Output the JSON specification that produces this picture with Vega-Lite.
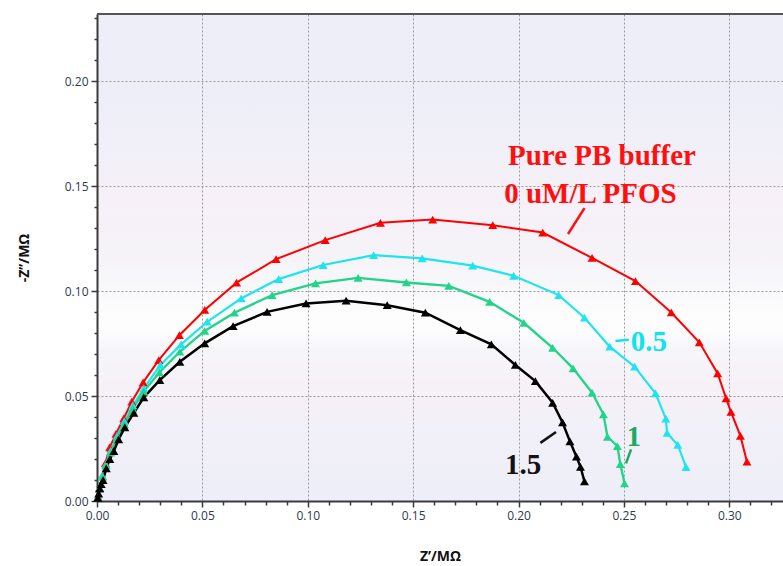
{
  "$schema": "https://vega.github.io/schema/vega-lite/v6.json",
  "width": 686,
  "height": 487,
  "autosize": {"type": "none"},
  "padding": {"left": 97, "top": 14, "right": 0, "bottom": 65},
  "background": "white",
  "config": {
    "view": {
      "stroke": null,
      "fill": {
        "gradient": "linear", "x1": 0, "y1": 0, "x2": 0, "y2": 1,
        "stops": [
          {"offset": 0, "color": "#eeeef8"},
          {"offset": 0.16, "color": "#eeeef8"},
          {"offset": 0.28, "color": "#f1f0f8"},
          {"offset": 0.38, "color": "#f7f0f8"},
          {"offset": 0.48, "color": "#f5f2f8"},
          {"offset": 0.55, "color": "#f7f7fa"},
          {"offset": 0.62, "color": "#fdfdfe"},
          {"offset": 0.65, "color": "#fdfdfe"},
          {"offset": 0.69, "color": "#f6f6fa"},
          {"offset": 0.78, "color": "#f6f0f7"},
          {"offset": 0.86, "color": "#f1f0f8"},
          {"offset": 1, "color": "#eeeef8"}
        ]
      }
    },
    "axis": {
      "domainColor": "#3a3a3a", "domainWidth": 2,
      "tickColor": "#3a3a3a", "tickWidth": 1.5,
      "labelFont": "Open Sans", "labelFontSize": 12, "labelColor": "#2e3a52",
      "titleFont": "Open Sans", "titleFontSize": 14, "titleFontWeight": "bold", "titleColor": "#111111",
      "gridColor": "#9a9a9a", "gridDash": [2, 2], "gridWidth": 1,
      "labelOverlap": false, "labelFlush": false
    }
  },
  "datasets": {
    "curves": [
      {"s": "0", "i": 1, "x": 0.0005, "y": 0.002},
      {"s": "0", "i": 2, "x": 0.0012, "y": 0.006},
      {"s": "0", "i": 3, "x": 0.0025, "y": 0.012},
      {"s": "0", "i": 4, "x": 0.0040, "y": 0.018},
      {"s": "0", "i": 5, "x": 0.0060, "y": 0.0255},
      {"s": "0", "i": 6, "x": 0.0090, "y": 0.032},
      {"s": "0", "i": 7, "x": 0.0127, "y": 0.0394},
      {"s": "0", "i": 8, "x": 0.0165, "y": 0.0473},
      {"s": "0", "i": 9, "x": 0.0219, "y": 0.0565},
      {"s": "0", "i": 10, "x": 0.0293, "y": 0.0671},
      {"s": "0", "i": 11, "x": 0.0391, "y": 0.0790},
      {"s": "0", "i": 12, "x": 0.0511, "y": 0.0910},
      {"s": "0", "i": 13, "x": 0.0662, "y": 0.1040},
      {"s": "0", "i": 14, "x": 0.0850, "y": 0.1152},
      {"s": "0", "i": 15, "x": 0.1083, "y": 0.1243},
      {"s": "0", "i": 16, "x": 0.1345, "y": 0.1325},
      {"s": "0", "i": 17, "x": 0.1593, "y": 0.1341},
      {"s": "0", "i": 18, "x": 0.1878, "y": 0.1314},
      {"s": "0", "i": 19, "x": 0.2115, "y": 0.1279},
      {"s": "0", "i": 20, "x": 0.2349, "y": 0.1158},
      {"s": "0", "i": 21, "x": 0.2555, "y": 0.1048},
      {"s": "0", "i": 22, "x": 0.2725, "y": 0.0898},
      {"s": "0", "i": 23, "x": 0.2858, "y": 0.0756},
      {"s": "0", "i": 24, "x": 0.2945, "y": 0.0608},
      {"s": "0", "i": 25, "x": 0.2985, "y": 0.0489},
      {"s": "0", "i": 26, "x": 0.3008, "y": 0.0425},
      {"s": "0", "i": 27, "x": 0.3053, "y": 0.0310},
      {"s": "0", "i": 28, "x": 0.3084, "y": 0.0187},

      {"s": "0.5", "i": 1, "x": 0.0005, "y": 0.002},
      {"s": "0.5", "i": 2, "x": 0.0012, "y": 0.0065},
      {"s": "0.5", "i": 3, "x": 0.0025, "y": 0.012},
      {"s": "0.5", "i": 4, "x": 0.0042, "y": 0.0175},
      {"s": "0.5", "i": 5, "x": 0.0065, "y": 0.024},
      {"s": "0.5", "i": 6, "x": 0.0095, "y": 0.031},
      {"s": "0.5", "i": 7, "x": 0.0130, "y": 0.038},
      {"s": "0.5", "i": 8, "x": 0.0170, "y": 0.0455},
      {"s": "0.5", "i": 9, "x": 0.0222, "y": 0.0537},
      {"s": "0.5", "i": 10, "x": 0.0301, "y": 0.0648},
      {"s": "0.5", "i": 11, "x": 0.0399, "y": 0.0746},
      {"s": "0.5", "i": 12, "x": 0.0523, "y": 0.0854},
      {"s": "0.5", "i": 13, "x": 0.0684, "y": 0.0965},
      {"s": "0.5", "i": 14, "x": 0.0862, "y": 0.1057},
      {"s": "0.5", "i": 15, "x": 0.1073, "y": 0.1124},
      {"s": "0.5", "i": 16, "x": 0.1313, "y": 0.1171},
      {"s": "0.5", "i": 17, "x": 0.1543, "y": 0.1156},
      {"s": "0.5", "i": 18, "x": 0.1783, "y": 0.1121},
      {"s": "0.5", "i": 19, "x": 0.1977, "y": 0.1073},
      {"s": "0.5", "i": 20, "x": 0.2191, "y": 0.0981},
      {"s": "0.5", "i": 21, "x": 0.2313, "y": 0.0873},
      {"s": "0.5", "i": 22, "x": 0.2433, "y": 0.0735},
      {"s": "0.5", "i": 23, "x": 0.2551, "y": 0.0640},
      {"s": "0.5", "i": 24, "x": 0.2650, "y": 0.0513},
      {"s": "0.5", "i": 25, "x": 0.2699, "y": 0.0392},
      {"s": "0.5", "i": 26, "x": 0.2705, "y": 0.0324},
      {"s": "0.5", "i": 27, "x": 0.2756, "y": 0.0267},
      {"s": "0.5", "i": 28, "x": 0.2795, "y": 0.0161},

      {"s": "1", "i": 1, "x": 0.0005, "y": 0.002},
      {"s": "1", "i": 2, "x": 0.0012, "y": 0.006},
      {"s": "1", "i": 3, "x": 0.0025, "y": 0.0115},
      {"s": "1", "i": 4, "x": 0.0042, "y": 0.017},
      {"s": "1", "i": 5, "x": 0.0065, "y": 0.023},
      {"s": "1", "i": 6, "x": 0.0095, "y": 0.030},
      {"s": "1", "i": 7, "x": 0.0130, "y": 0.0365},
      {"s": "1", "i": 8, "x": 0.0170, "y": 0.044},
      {"s": "1", "i": 9, "x": 0.0222, "y": 0.0521},
      {"s": "1", "i": 10, "x": 0.0296, "y": 0.0613},
      {"s": "1", "i": 11, "x": 0.0393, "y": 0.0711},
      {"s": "1", "i": 12, "x": 0.0511, "y": 0.0810},
      {"s": "1", "i": 13, "x": 0.0652, "y": 0.0897},
      {"s": "1", "i": 14, "x": 0.0831, "y": 0.0981},
      {"s": "1", "i": 15, "x": 0.1037, "y": 0.1037},
      {"s": "1", "i": 16, "x": 0.1239, "y": 0.1063},
      {"s": "1", "i": 17, "x": 0.1468, "y": 0.1041},
      {"s": "1", "i": 18, "x": 0.1669, "y": 0.1025},
      {"s": "1", "i": 19, "x": 0.1863, "y": 0.0949},
      {"s": "1", "i": 20, "x": 0.2025, "y": 0.0849},
      {"s": "1", "i": 21, "x": 0.2162, "y": 0.0730},
      {"s": "1", "i": 22, "x": 0.2259, "y": 0.0632},
      {"s": "1", "i": 23, "x": 0.2349, "y": 0.0516},
      {"s": "1", "i": 24, "x": 0.2403, "y": 0.0413},
      {"s": "1", "i": 25, "x": 0.2422, "y": 0.0306},
      {"s": "1", "i": 26, "x": 0.2469, "y": 0.0262},
      {"s": "1", "i": 27, "x": 0.2483, "y": 0.0176},
      {"s": "1", "i": 28, "x": 0.2503, "y": 0.0084},

      {"s": "1.5", "i": 1, "x": 0.0004, "y": 0.0015},
      {"s": "1.5", "i": 2, "x": 0.0008, "y": 0.0035},
      {"s": "1.5", "i": 3, "x": 0.0013, "y": 0.0060},
      {"s": "1.5", "i": 4, "x": 0.0020, "y": 0.0080},
      {"s": "1.5", "i": 5, "x": 0.0029, "y": 0.0100},
      {"s": "1.5", "i": 6, "x": 0.0044, "y": 0.0156},
      {"s": "1.5", "i": 7, "x": 0.0061, "y": 0.0199},
      {"s": "1.5", "i": 8, "x": 0.0080, "y": 0.0238},
      {"s": "1.5", "i": 9, "x": 0.0103, "y": 0.0294},
      {"s": "1.5", "i": 10, "x": 0.0132, "y": 0.0351},
      {"s": "1.5", "i": 11, "x": 0.0175, "y": 0.0420},
      {"s": "1.5", "i": 12, "x": 0.0222, "y": 0.0494},
      {"s": "1.5", "i": 13, "x": 0.0298, "y": 0.0576},
      {"s": "1.5", "i": 14, "x": 0.0393, "y": 0.0663},
      {"s": "1.5", "i": 15, "x": 0.0511, "y": 0.0751},
      {"s": "1.5", "i": 16, "x": 0.0646, "y": 0.0833},
      {"s": "1.5", "i": 17, "x": 0.0807, "y": 0.0901},
      {"s": "1.5", "i": 18, "x": 0.0992, "y": 0.0941},
      {"s": "1.5", "i": 19, "x": 0.1182, "y": 0.0954},
      {"s": "1.5", "i": 20, "x": 0.1377, "y": 0.0933},
      {"s": "1.5", "i": 21, "x": 0.1558, "y": 0.0897},
      {"s": "1.5", "i": 22, "x": 0.1724, "y": 0.0814},
      {"s": "1.5", "i": 23, "x": 0.1871, "y": 0.0746},
      {"s": "1.5", "i": 24, "x": 0.1985, "y": 0.0648},
      {"s": "1.5", "i": 25, "x": 0.2080, "y": 0.0571},
      {"s": "1.5", "i": 26, "x": 0.2162, "y": 0.0468},
      {"s": "1.5", "i": 27, "x": 0.2209, "y": 0.0374},
      {"s": "1.5", "i": 28, "x": 0.2244, "y": 0.0284},
      {"s": "1.5", "i": 29, "x": 0.2275, "y": 0.0211},
      {"s": "1.5", "i": 30, "x": 0.2294, "y": 0.0163},
      {"s": "1.5", "i": 31, "x": 0.2313, "y": 0.0093}
    ],
    "labels": [
      {"s": "0", "label": "Pure PB buffer", "x": 0.2396, "y": 0.1644},
      {"s": "0", "label": "0 uM/L PFOS", "x": 0.2341, "y": 0.1463},
      {"s": "0.5", "label": "0.5", "x": 0.2618, "y": 0.0757},
      {"s": "1", "label": "1", "x": 0.2547, "y": 0.0305},
      {"s": "1.5", "label": "1.5", "x": 0.2022, "y": 0.0171}
    ],
    "leaders": [
      {"s": "0", "x": 0.2235, "y": 0.1272, "x2": 0.2313, "y2": 0.1395},
      {"s": "0.5", "x": 0.2460, "y": 0.0762, "x2": 0.2523, "y2": 0.0768},
      {"s": "1", "x": 0.2510, "y": 0.0179, "x2": 0.2534, "y2": 0.0246},
      {"s": "1.5", "x": 0.2104, "y": 0.0277, "x2": 0.2178, "y2": 0.0329}
    ]
  },
  "resolve": {"scale": {"color": "independent"}, "axis": {"x": "independent", "y": "independent"}},
  "layer": [
    {
      "data": {"name": "curves"},
      "mark": {"type": "line", "point": {"shape": "triangle-up", "filled": true, "size": 80}},
      "encoding": {
        "x": {
          "field": "x", "type": "quantitative", "title": "Z’/MΩ",
          "scale": {"domain": [0, 0.3255], "nice": false},
          "axis": {
            "orient": "bottom",
            "values": [0, 0.05, 0.1, 0.15, 0.2, 0.25, 0.3],
            "format": ".2f", "labelOverlap": false, "labelFlush": false,
            "grid": true, "gridDash": [2, 2], "tickSize": 6,
            "labelPadding": 3, "titlePadding": 28
          }
        },
        "y": {
          "field": "y", "type": "quantitative", "title": "-Z’’/MΩ",
          "scale": {"domain": [0, 0.232], "nice": false},
          "axis": {
            "orient": "left",
            "values": [0, 0.05, 0.1, 0.15, 0.2],
            "format": ".2f", "labelOverlap": false, "labelFlush": false,
            "grid": true, "gridDash": [2, 2], "tickSize": 6,
            "labelPadding": 3, "titlePadding": 33
          }
        },
        "color": {
          "field": "s", "type": "nominal", "legend": null,
          "scale": {"domain": ["0", "0.5", "1", "1.5"], "range": ["#ff0000", "#1ee4f0", "#22d48a", "#000000"]}
        },
        "strokeWidth": {
          "field": "s", "type": "ordinal", "legend": null,
          "scale": {"domain": ["0", "0.5", "1", "1.5"], "range": [2, 2.5, 2, 1.6]}
        },
        "order": {"field": "i", "type": "quantitative"}
      }
    },
    {
      "data": {"values": [{}]},
      "mark": {"type": "point", "opacity": 0},
      "encoding": {
        "x": {
          "datum": 0, "type": "quantitative",
          "scale": {"domain": [0, 0.3255], "nice": false},
          "axis": {
            "orient": "bottom", "title": null,
            "values": [0.01,0.02,0.03,0.04,0.06,0.07,0.08,0.09,0.11,0.12,0.13,0.14,0.16,0.17,0.18,0.19,0.21,0.22,0.23,0.24,0.26,0.27,0.28,0.29,0.31,0.32],
            "labels": false, "grid": false, "domain": false, "ticks": true, "tickSize": 4
          }
        },
        "y": {
          "datum": 0, "type": "quantitative",
          "scale": {"domain": [0, 0.232], "nice": false},
          "axis": {
            "orient": "left", "title": null,
            "values": [0.01,0.02,0.03,0.04,0.06,0.07,0.08,0.09,0.11,0.12,0.13,0.14,0.16,0.17,0.18,0.19,0.21,0.22,0.23],
            "labels": false, "grid": false, "domain": false, "ticks": true, "tickSize": 3
          }
        }
      }
    },
    {
      "data": {"name": "leaders"},
      "mark": {"type": "rule", "strokeWidth": 2.5},
      "encoding": {
        "x": {"field": "x", "type": "quantitative", "axis": null, "scale": {"domain": [0, 0.3255], "nice": false}},
        "y": {"field": "y", "type": "quantitative", "axis": null, "scale": {"domain": [0, 0.232], "nice": false}},
        "x2": {"field": "x2"},
        "y2": {"field": "y2"},
        "color": {
          "field": "s", "type": "nominal", "legend": null,
          "scale": {"domain": ["0", "0.5", "1", "1.5"], "range": ["#ff1010", "#12e2f0", "#1fa862", "#111111"]}
        }
      }
    },
    {
      "data": {"name": "labels"},
      "mark": {"type": "text", "font": "Liberation Serif", "fontWeight": "bold", "fontSize": 29, "align": "center", "baseline": "middle"},
      "encoding": {
        "x": {"field": "x", "type": "quantitative", "axis": null, "scale": {"domain": [0, 0.3255], "nice": false}},
        "y": {"field": "y", "type": "quantitative", "axis": null, "scale": {"domain": [0, 0.232], "nice": false}},
        "text": {"field": "label"},
        "color": {
          "field": "s", "type": "nominal", "legend": null,
          "scale": {"domain": ["0", "0.5", "1", "1.5"], "range": ["#ff1010", "#12e2f0", "#1fa862", "#111111"]}
        }
      }
    },
    {
      "data": {"values": [{}]},
      "mark": {"type": "rule", "color": "#555555", "strokeWidth": 2},
      "encoding": {
        "y": {"datum": 0.232, "type": "quantitative", "axis": null, "scale": {"domain": [0, 0.232], "nice": false}}
      }
    }
  ]
}
